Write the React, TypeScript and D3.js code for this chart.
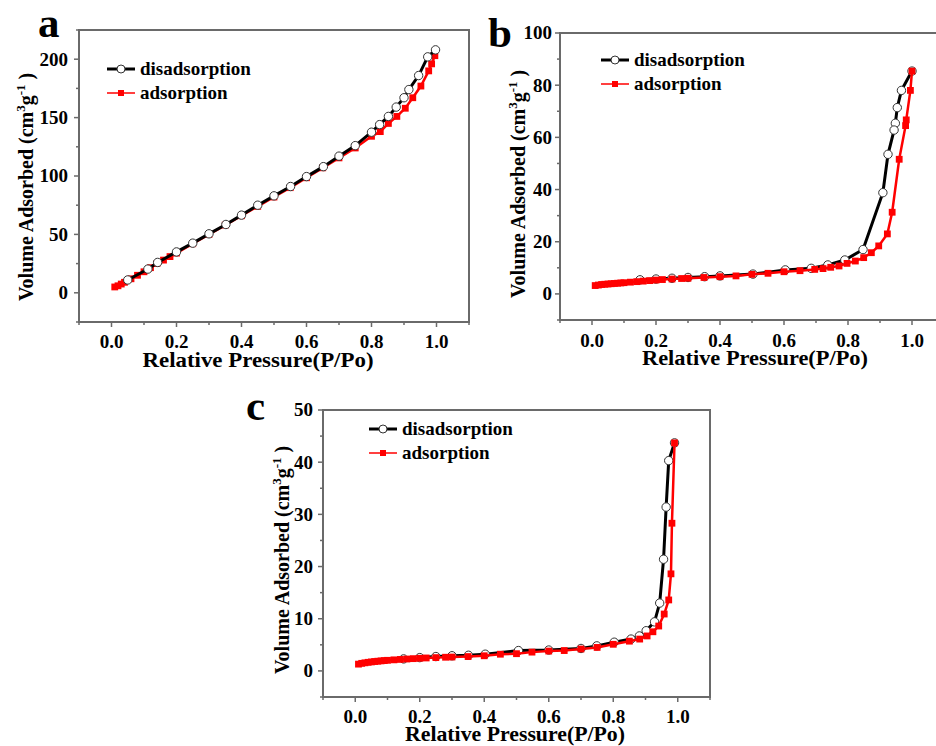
import React from 'react';
import * as d3 from 'd3';

// ---- panel a ----
const aAdsP = [0.01, 0.02, 0.03, 0.04, 0.06, 0.08, 0.1, 0.12, 0.14, 0.16, 0.18, 0.2, 0.25, 0.3, 0.35, 0.4, 0.45, 0.5, 0.55, 0.6, 0.65, 0.7, 0.75, 0.8, 0.827, 0.852, 0.878, 0.904, 0.927, 0.952, 0.976, 0.985, 0.995];
const aAdsV = [5, 6, 7.5, 9, 12, 15, 18, 21.5, 25, 28, 31, 34, 42, 50, 58, 66, 74, 82, 90, 98.5, 107, 115.5, 124, 134, 138, 145, 151, 158, 167, 177, 190, 196, 203];
const aDesP = [0.997, 0.973, 0.945, 0.915, 0.9, 0.876, 0.852, 0.825, 0.8, 0.75, 0.7, 0.652, 0.6, 0.551, 0.5, 0.45, 0.4, 0.352, 0.3, 0.25, 0.2, 0.142, 0.112, 0.05];
const aDesV = [208, 202, 186, 174, 167, 159, 151, 144, 137.5, 126, 117, 108, 99.5, 91, 83, 75, 66.5, 58.5, 50.5, 42.5, 35, 26, 20.3, 11];

// ---- panel b ----
const bAdsP = [0.01, 0.02, 0.03, 0.04, 0.05, 0.06, 0.07, 0.08, 0.09, 0.1, 0.12, 0.14, 0.16, 0.18, 0.2, 0.22, 0.25, 0.28, 0.3, 0.35, 0.4, 0.45, 0.5, 0.55, 0.6, 0.65, 0.696, 0.722, 0.746, 0.772, 0.797, 0.823, 0.849, 0.873, 0.896, 0.923, 0.938, 0.96, 0.98, 0.982, 0.995, 1.0];
const bAdsV = [3.2, 3.4, 3.6, 3.7, 3.8, 3.9, 4.0, 4.1, 4.2, 4.3, 4.5, 4.7, 4.9, 5.1, 5.3, 5.5, 5.7, 5.9, 6.0, 6.3, 6.6, 6.9, 7.5, 7.9, 8.5, 8.9, 9.4, 9.7, 10.2, 10.7, 11.7, 12.6, 13.9, 15.8, 18.4, 23, 31.3, 51.6, 64.5, 66.7, 78, 85.4];
const bDesP = [1.0, 0.967, 0.954, 0.948, 0.944, 0.925, 0.909, 0.847, 0.79, 0.737, 0.685, 0.604, 0.503, 0.4, 0.352, 0.3, 0.25, 0.2, 0.15];
const bDesV = [85.4, 78, 71.4, 65.4, 62.8, 53.5, 38.8, 17, 13, 11.1, 9.8, 9.2, 7.6, 6.9, 6.6, 6.3, 6.0, 5.7, 5.4];

// ---- panel c ----
const cAdsP = [0.01, 0.02, 0.03, 0.04, 0.05, 0.06, 0.07, 0.08, 0.09, 0.1, 0.12, 0.14, 0.16, 0.18, 0.2, 0.22, 0.25, 0.28, 0.3, 0.35, 0.4, 0.45, 0.5, 0.548, 0.6, 0.648, 0.7, 0.75, 0.8, 0.85, 0.882, 0.905, 0.923, 0.941, 0.958, 0.972, 0.979, 0.982, 0.99];
const cAdsV = [1.3, 1.45, 1.55, 1.65, 1.72, 1.8, 1.86, 1.92, 1.98, 2.03, 2.12, 2.2, 2.28, 2.35, 2.42, 2.48, 2.55, 2.62, 2.66, 2.75, 2.9, 3.2, 3.3, 3.6, 3.8, 3.9, 4.2, 4.5, 5.1, 5.7, 6.1, 6.7, 7.5, 8.6, 10.9, 13.6, 18.6, 28.3, 43.7];
const cDesP = [0.99, 0.972, 0.964, 0.956, 0.944, 0.928, 0.902, 0.881, 0.855, 0.803, 0.749, 0.7, 0.6, 0.506, 0.403, 0.351, 0.3, 0.25, 0.2, 0.15];
const cDesV = [43.7, 40.3, 31.4, 21.4, 13, 9.4, 7.7, 6.7, 6.1, 5.5, 4.8, 4.3, 4.0, 3.9, 3.2, 3.0, 2.9, 2.75, 2.55, 2.3];

const xMajor = [0, 0.2, 0.4, 0.6, 0.8, 1.0];
const xMinor = [-0.1, 0.1, 0.3, 0.5, 0.7, 0.9, 1.1];
const seriesNames = ['disadsorption', 'adsorption'];

const FONT = '"Liberation Serif", "Times New Roman", serif';
const AXIS = '#6a6a6a';

const zip = (p: number[], v: number[]) => p.map((d, i) => [d, v[i]] as [number, number]);

type PanelProps = {
  letter: string; letterX: number; letterY: number;
  left: number; right: number; top: number; bottom: number;
  yDomain: [number, number]; yMajor: number[]; yMinor: number[];
  ads: [number, number][]; des: [number, number][];
  adsOnTop: boolean;
  legX: number; legY: number;
  yLabelX: number; yLabelY: number; yTickGap: number;
  xLabelCx: number; xLabelY: number; xLabelW: number; xTickY: number;
};

const Panel = (p: PanelProps) => {
  const x = d3.scaleLinear().domain([-0.1, 1.1]).range([p.left, p.right]);
  const y = d3.scaleLinear().domain(p.yDomain).range([p.bottom, p.top]);
  const line = d3.line<[number, number]>().x(d => x(d[0])).y(d => y(d[1]));
  const fmt = d3.format('.1f');

  const desG = (
    <g key="des">
      <path d={line(p.des) || ''} fill="none" stroke="#000" strokeWidth={3} />
      {p.des.map((d, i) => (
        <circle key={i} cx={x(d[0])} cy={y(d[1])} r={4.2} fill="#fff" stroke="#333" strokeWidth={1} />
      ))}
    </g>
  );
  const adsG = (
    <g key="ads">
      <path d={line(p.ads) || ''} fill="none" stroke="#f00" strokeWidth={2.5} />
      {p.ads.map((d, i) => (
        <rect key={i} x={x(d[0]) - 3.4} y={y(d[1]) - 3.4} width={6.8} height={6.8} fill="#f00" />
      ))}
    </g>
  );

  return (
    <g fontFamily={FONT} fontWeight="bold">
      <text x={p.letterX} y={p.letterY} fontSize={43}>{p.letter}</text>
      {p.adsOnTop ? [desG, adsG] : [adsG, desG]}
      <rect x={p.left} y={p.top} width={p.right - p.left} height={p.bottom - p.top} fill="none" stroke={AXIS} strokeWidth={2} />
      {/* x ticks */}
      {xMajor.map(t => (
        <g key={'xm' + t}>
          <line x1={x(t)} x2={x(t)} y1={p.bottom} y2={p.bottom + 5} stroke={AXIS} strokeWidth={1.5} />
          <text x={x(t)} y={p.xTickY} fontSize={19} textAnchor="middle">{fmt(t)}</text>
        </g>
      ))}
      {xMinor.map(t => (
        <line key={'xn' + t} x1={x(t)} x2={x(t)} y1={p.bottom} y2={p.bottom + 3} stroke={AXIS} strokeWidth={1.5} />
      ))}
      {/* y ticks */}
      {p.yMajor.map(t => (
        <g key={'ym' + t}>
          <line x1={p.left - 5} x2={p.left} y1={y(t)} y2={y(t)} stroke={AXIS} strokeWidth={1.5} />
          <text x={p.left - p.yTickGap} y={y(t)} dy="0.34em" fontSize={19} textAnchor="end">{t}</text>
        </g>
      ))}
      {p.yMinor.map(t => (
        <line key={'yn' + t} x1={p.left - 3} x2={p.left} y1={y(t)} y2={y(t)} stroke={AXIS} strokeWidth={1.5} />
      ))}
      {/* axis titles */}
      <text x={p.xLabelCx} y={p.xLabelY} fontSize={21.5} textAnchor="middle"
        textLength={p.xLabelW} lengthAdjust="spacingAndGlyphs">Relative Pressure(P/Po)</text>
      <text transform={`translate(${p.yLabelX},${p.yLabelY}) rotate(-90)`} fontSize={20}>
        Volume Adsorbed (cm<tspan dy={-8} fontSize={13}>3</tspan><tspan dy={8}>g</tspan><tspan dy={-8} fontSize={13}>-1</tspan><tspan dy={8}> )</tspan>
      </text>
      {/* legend */}
      <g>
        <line x1={p.legX} x2={p.legX + 28} y1={p.legY} y2={p.legY} stroke="#000" strokeWidth={3} />
        <circle cx={p.legX + 14} cy={p.legY} r={4} fill="#fff" stroke="#333" strokeWidth={1} />
        <text x={p.legX + 33} y={p.legY + 6} fontSize={19}>{seriesNames[0]}</text>
        <line x1={p.legX} x2={p.legX + 28} y1={p.legY + 24} y2={p.legY + 24} stroke="#f00" strokeWidth={1.5} />
        <rect x={p.legX + 11} y={p.legY + 21} width={6} height={6} fill="#f00" />
        <text x={p.legX + 33} y={p.legY + 30} fontSize={19}>{seriesNames[1]}</text>
      </g>
    </g>
  );
};

const App = () => (
  <svg width={936} height={746} style={{ display: 'block', position: 'absolute', left: 0, top: 0, background: '#fff' }}>
    <Panel letter="a" letterX={38} letterY={37}
      left={79} right={469} top={30} bottom={322}
      yDomain={[-25, 225]} yMajor={[0, 50, 100, 150, 200]} yMinor={[-25, 25, 75, 125, 175, 225]}
      ads={zip(aAdsP, aAdsV)} des={zip(aDesP, aDesV)} adsOnTop={false}
      legX={107} legY={69}
      yLabelX={33} yLabelY={301} yTickGap={11}
      xLabelCx={258} xLabelY={367} xLabelW={231} xTickY={348} />
    <Panel letter="b" letterX={488} letterY={47}
      left={560} right={944} top={33} bottom={320}
      yDomain={[-10, 100]} yMajor={[0, 20, 40, 60, 80, 100]} yMinor={[-10, 10, 30, 50, 70, 90]}
      ads={zip(bAdsP, bAdsV)} des={zip(bDesP, bDesV)} adsOnTop={true}
      legX={601} legY={60}
      yLabelX={525} yLabelY={298} yTickGap={8}
      xLabelCx={755} xLabelY={365} xLabelW={226} xTickY={347} />
    <Panel letter="c" letterX={246} letterY={420}
      left={323} right={710} top={410} bottom={697}
      yDomain={[-5, 50]} yMajor={[0, 10, 20, 30, 40, 50]} yMinor={[-5, 5, 15, 25, 35, 45]}
      ads={zip(cAdsP, cAdsV)} des={zip(cDesP, cDesV)} adsOnTop={true}
      legX={369} legY={429}
      yLabelX={289} yLabelY={674} yTickGap={10}
      xLabelCx={515} xLabelY={741} xLabelW={220} xTickY={723} />
  </svg>
);

export default App;
